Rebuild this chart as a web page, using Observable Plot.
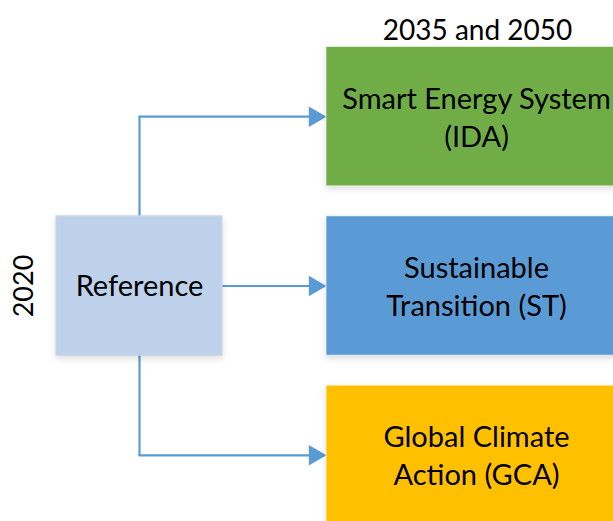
<!DOCTYPE html>
<html>
<head>
<meta charset="utf-8">
<script src="https://cdn.jsdelivr.net/npm/d3@7"></script>
<script src="https://cdn.jsdelivr.net/npm/@observablehq/plot@0.6"></script>
<style>
  html, body { margin: 0; padding: 0; background: #ffffff; }
  #chart { width: 613px; height: 521px; overflow: hidden; }
  #chart svg { display: block; }
  #chart svg g[aria-label="rect"] rect { filter: drop-shadow(0px 3px 3px rgba(0,0,0,0.13)); }
</style>
</head>
<body>
<div id="chart"></div>
<script>
// ---- data ----
const scenarios = ["Smart Energy System\n(IDA)", "Sustainable\nTransition (ST)", "Global Climate\nAction (GCA)"];
const baselineScenario = ["Reference"];
const startYear = ["2020"];
const targetYears = ["2035 and 2050"];

// ---- styles ----
const scenarioColors = ["#70AD47", "#5B9BD5", "#FFC000"];
const referenceColor = "#BDD1EA";
const connectorColor = "#5B9BD5";
const font = "Lato, 'Open Sans', sans-serif";

// ---- layout ----
const W = 613, H = 521;
const row = d3.scaleBand().domain(scenarios).range([46.5, 524.5]).paddingInner(0.177).paddingOuter(0);
const scenX1 = 326, scenX2 = 626;
const refX1 = 56, refX2 = 222;
const trunkX = 139;
const tipX = scenX1;
const headR = 7.6;
const headCx = tipX - headR * 1.55;
const refRow = scenarios[1];

const scenarioBoxes = scenarios.map((s, i) => ({
  label: s, color: scenarioColors[i],
  x1: scenX1, x2: scenX2, y1: row(s), y2: row(s) + row.bandwidth(),
  cx: (scenX1 + scenX2) / 2, cy: row(s) + row.bandwidth() / 2
}));
const refBox = baselineScenario.map(s => ({
  label: s, x1: refX1, x2: refX2, y1: row(refRow), y2: row(refRow) + row.bandwidth(),
  cx: (refX1 + refX2) / 2, cy: row(refRow) + row.bandwidth() / 2
}));

// connectors: trunk and horizontal branches (branch from trunk to arrowhead)
const connectors = [];
scenarioBoxes.forEach((b, i) => {
  const startX = i === 1 ? refX2 : trunkX;
  connectors.push({id: "b" + i, x: startX, y: b.cy});
  connectors.push({id: "b" + i, x: headCx, y: b.cy});
});
connectors.push({id: "trunk", x: trunkX, y: scenarioBoxes[0].cy});
connectors.push({id: "trunk", x: trunkX, y: scenarioBoxes[2].cy});

const chart = Plot.plot({
  width: W,
  height: H,
  margin: 0,
  style: {fontFamily: font, background: "#ffffff"},
  x: {type: "linear", domain: [0, W], range: [0, W], axis: null},
  y: {type: "linear", domain: [0, H], range: [0, H], axis: null},
  marks: [
    Plot.line(connectors, {x: "x", y: "y", z: "id", stroke: connectorColor, strokeWidth: 2.2, curve: "linear"}),
    Plot.dot(scenarioBoxes, {x: headCx, y: "cy", symbol: "triangle", rotate: 90, r: headR, fill: connectorColor, stroke: null}),
    Plot.rect(scenarioBoxes, {x1: "x1", x2: "x2", y1: "y1", y2: "y2", fill: "color", stroke: "#ffffff", strokeOpacity: 0.6, strokeWidth: 1}),
    Plot.rect(refBox, {x1: "x1", x2: "x2", y1: "y1", y2: "y2", fill: referenceColor, stroke: "#cdd6e3", strokeWidth: 1}),
    Plot.text(scenarioBoxes, {x: "cx", y: "cy", text: "label", fill: "#000000", fontSize: 29, lineHeight: 1.31, lineAnchor: "middle", textAnchor: "middle", dy: -1}),
    Plot.text(refBox, {x: "cx", y: "cy", text: "label", fill: "#000000", fontSize: 29, lineAnchor: "middle", textAnchor: "middle", dy: 1}),
    Plot.text(targetYears, {x: (scenX1 + scenX2) / 2 + 1, y: scenarioBoxes[0].y1, text: d => d, fill: "#000000", fontSize: 28, lineAnchor: "bottom", textAnchor: "middle", dy: -7}),
    Plot.text(startYear, {x: 24, y: refBox[0].cy, text: d => d, fill: "#000000", fontSize: 27, rotate: -90, lineAnchor: "middle", textAnchor: "middle"})
  ]
});
document.getElementById("chart").appendChild(chart);
</script>
</body>
</html>
